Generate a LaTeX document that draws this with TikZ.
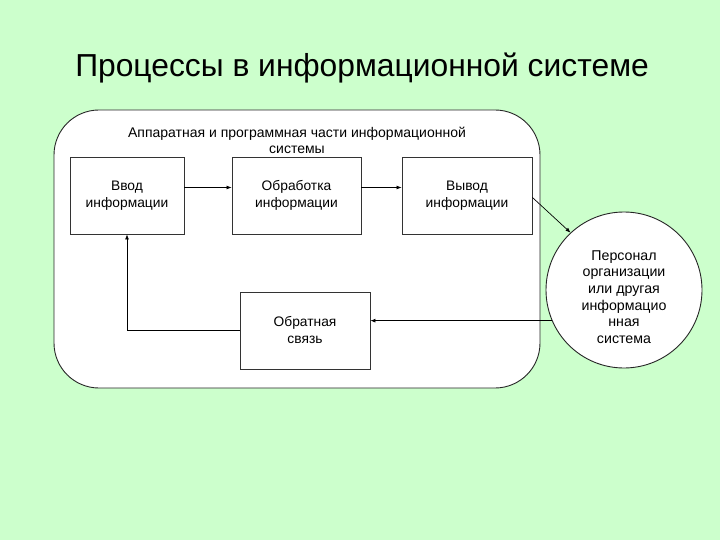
\documentclass[tikz,border=0pt]{standalone}
\usepackage{fontspec}
\setmainfont{Liberation Sans}
\usetikzlibrary{arrows.meta}
\definecolor{fon}{RGB}{204,255,204}
\begin{document}
\begin{tikzpicture}[x=1pt,y=-1pt,
  blok/.style={draw=black!80, fill=white, line width=0.9pt, minimum height=77pt,
    inner sep=0pt, align=center, font=\fontsize{13.8}{17}\selectfont},
  strelka/.style={-{Latex[length=5pt,width=4pt]}, line width=0.7pt}]
\useasboundingbox (0,0) rectangle (720,540);
\fill[fon] (0,0) rectangle (720,540);
\node (zag) at (362,68) {\fontsize{31.8}{36}\selectfont Процессы в информационной системе};
% rounded frame
\draw[rounded corners=45pt, fill=white, line width=0.9pt, draw=black!85] (54,110) rectangle (540,388);
\node[align=center, font=\fontsize{14}{16}\selectfont] (podp) at (297,140.5)
  {Аппаратная и программная части информационной\\системы};
\node[blok, minimum width=114pt] (vvod) at (127,195.5) {Ввод\\информации};
\node[blok, minimum width=129pt] (obr) at (296.5,195.5) {Обработка\\информации};
\node[blok, minimum width=130pt] (vyvod) at (467,195.5) {Вывод\\информации};
\node[blok, minimum width=130pt] (svyaz) at (305,330.5) {Обратная\\связь};
\node[circle, draw=black!85, fill=white, line width=0.9pt, minimum size=156pt, inner sep=0pt] (pers) at (624,290) {};
\node[align=center, font=\fontsize{14.2}{16.6}\selectfont] (perstxt) at (624,297)
  {Персонал\\организации\\или другая\\информацио\\нная\\система};
% arrows
\draw[strelka] ([yshift=8pt]vvod.east) -- ([yshift=8pt]obr.west);
\draw[strelka] ([yshift=8pt]obr.east) -- ([yshift=8pt]vyvod.west);
\draw[strelka] ([yshift=-2pt]vyvod.east) -- (pers.133);
\draw[strelka] (pers.203) -- (pers.203 -| svyaz.east);
\draw[strelka] (svyaz.west) -| (vvod.south);
\end{tikzpicture}
\end{document}
